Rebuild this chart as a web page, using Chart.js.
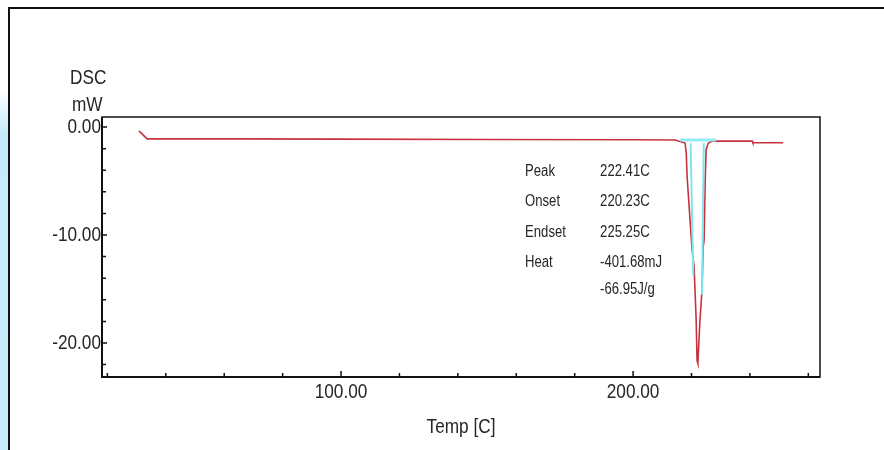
<!DOCTYPE html>
<html>
<head>
<meta charset="utf-8">
<script src="https://cdn.jsdelivr.net/npm/chart.js@4.4.0/dist/chart.umd.min.js"></script>
<style>
  html, body { margin: 0; padding: 0; background: #fff; }
  #wrap { width: 884px; height: 450px; position: relative; }
</style>
</head>
<body>
<div id="wrap"><canvas id="dsc" width="884" height="450"></canvas></div>
<script>
// DSC curve (red)
const tempRed = [30.8, 33.6, 60, 100, 150, 200, 214.4, 217.8, 218.2, 218.5, 219.5, 220.2, 220.9, 221.6, 221.9, 222.2,
  222.4, 222.9, 223.6, 224.0, 224.3, 224.7, 225.0, 225.7, 227.1, 240.8, 241.0, 251.4];
const dscRed = [-0.35, -1.1, -1.1, -1.12, -1.15, -1.18, -1.2, -1.48, -2.4, -4.6, -8.6, -11.4, -13.0, -17.9, -21.6, -21.9,
  -20.6, -17.9, -15.1, -11.1, -10.5, -4.9, -2.1, -1.5, -1.3, -1.3, -1.45, -1.45];

// peak integration marks (cyan)
const tempBase = [216.1, 228.4];
const dscBase = [-1.2, -1.2];
const tempCyanL = [219.7, 220.6];
const dscCyanL = [-1.5, -13.8];
const tempCyanR = [224.2, 223.6];
const dscCyanR = [-1.5, -15.5];

// axes
const xMin = 18.15, xMax = 264.0;
const yMin = -23.15, yMax = 0.93;
const xStep = 20, yStep = 2;
const xLabelEvery = 100, yLabelEvery = 10;

// result box
const resultNames = ['Peak', 'Onset', 'Endset', 'Heat', ''];
const resultValues = ['222.41C', '220.23C', '225.25C', '-401.68mJ', '-66.95J/g'];

// Arial Narrow look: Liberation Sans squeezed horizontally
const FONT = "'Liberation Sans', Arial, sans-serif";
const SQUEEZE = 0.82;
const TEXT = '#262626';

function pts(xs, ys) {
  return xs.map((x, i) => ({ x: x, y: ys[i] }));
}

function narrowText(ctx, txt, x, y, size, align) {
  ctx.save();
  ctx.font = size + 'px ' + FONT;
  ctx.textBaseline = 'middle';
  ctx.textAlign = align || 'left';
  ctx.fillStyle = TEXT;
  ctx.translate(x, y);
  ctx.scale(SQUEEZE, 1);
  ctx.fillText(txt, 0, 0);
  ctx.restore();
}

const framePlugin = {
  id: 'frame',
  beforeDraw(chart) {
    const ctx = chart.ctx;
    ctx.save();
    // light blue strip on the left
    const g = ctx.createLinearGradient(0, 90, 0, 450);
    g.addColorStop(0, 'rgba(196,234,250,0)');
    g.addColorStop(0.12, 'rgba(196,234,250,1)');
    g.addColorStop(1, 'rgba(200,236,250,1)');
    ctx.fillStyle = g;
    ctx.fillRect(0, 90, 8, 360);
    // outer window border
    ctx.strokeStyle = '#111';
    ctx.lineWidth = 2;
    ctx.beginPath();
    ctx.moveTo(9, 450);
    ctx.lineTo(9, 8);
    ctx.lineTo(884, 8);
    ctx.stroke();
    ctx.restore();
  },
  afterDraw(chart) {
    const ctx = chart.ctx;
    const a = chart.chartArea;
    const xs = chart.scales.x, ys = chart.scales.y;
    ctx.save();
    // plot frame
    ctx.strokeStyle = '#111';
    ctx.lineWidth = 1.5;
    ctx.strokeRect(a.left, a.top, a.right - a.left, a.bottom - a.top);
    ctx.lineWidth = 2;
    ctx.beginPath();
    ctx.moveTo(a.left, a.top);
    ctx.lineTo(a.left, a.bottom);
    ctx.lineTo(a.right, a.bottom);
    ctx.stroke();
    // inward tick marks
    ctx.lineWidth = 1.5;
    ctx.beginPath();
    xs.ticks.forEach(t => {
      const px = xs.getPixelForValue(t.value);
      const len = t.value % xLabelEvery === 0 ? 6 : 4;
      ctx.moveTo(px, a.bottom);
      ctx.lineTo(px, a.bottom - len);
    });
    ys.ticks.forEach(t => {
      const py = ys.getPixelForValue(t.value);
      const len = t.value % yLabelEvery === 0 ? 5 : 4;
      ctx.moveTo(a.left, py);
      ctx.lineTo(a.left + len, py);
    });
    ctx.stroke();
    ctx.restore();

    // tick labels
    xs.ticks.forEach(t => {
      if (t.value % xLabelEvery !== 0) return;
      narrowText(ctx, t.value.toFixed(2), xs.getPixelForValue(t.value), a.bottom + 15, 21, 'center');
    });
    ys.ticks.forEach(t => {
      if (Math.abs(t.value % yLabelEvery) > 1e-9) return;
      const v = t.value === 0 ? 0 : t.value;
      narrowText(ctx, v.toFixed(2), a.left - 1, ys.getPixelForValue(t.value), 21, 'right');
    });
    // axis titles
    narrowText(ctx, 'Temp [C]', (a.left + a.right) / 2, a.bottom + 50, 21, 'center');
    narrowText(ctx, 'DSC', 70, 78, 21, 'left');
    narrowText(ctx, 'mW', 72, 105, 21, 'left');

    // result box
    const nameX = xs.getPixelForValue(163.0);
    const valX = xs.getPixelForValue(188.7);
    const rowsY = [-4.17, -6.94, -9.8, -12.6, -15.1];
    resultNames.forEach((n, i) => {
      const py = ys.getPixelForValue(rowsY[i]);
      if (n) narrowText(ctx, n, nameX, py, 16, 'left');
      narrowText(ctx, resultValues[i], valX, py, 16, 'left');
    });
  }
};

new Chart(document.getElementById('dsc'), {
  type: 'scatter',
  data: {
    datasets: [
      { data: pts(tempBase, dscBase), showLine: true, borderColor: '#8eeef4', borderWidth: 3, pointRadius: 0 },
      { data: pts(tempCyanL, dscCyanL), showLine: true, borderColor: '#7fe6ee', borderWidth: 2, pointRadius: 0 },
      { data: pts(tempCyanR, dscCyanR), showLine: true, borderColor: '#7fe6ee', borderWidth: 2, pointRadius: 0 },
      { data: pts(tempRed, dscRed), showLine: true, borderColor: '#c8323e', borderWidth: 1.6, pointRadius: 0, tension: 0 }
    ]
  },
  options: {
    responsive: false,
    animation: false,
    events: [],
    layout: { padding: { left: 0, top: 117, right: 64, bottom: 0 } },
    plugins: { legend: { display: false }, tooltip: { enabled: false } },
    scales: {
      x: {
        type: 'linear',
        min: xMin, max: xMax,
        border: { display: false },
        grid: { display: false, drawTicks: false },
        ticks: { display: false, stepSize: xStep, includeBounds: false, autoSkip: false },
        afterFit: s => { s.height = 73; }
      },
      y: {
        type: 'linear',
        min: yMin, max: yMax,
        border: { display: false },
        grid: { display: false, drawTicks: false },
        ticks: { display: false, stepSize: yStep, includeBounds: false, autoSkip: false },
        afterFit: s => { s.width = 102; }
      }
    }
  },
  plugins: [framePlugin]
});
</script>
</body>
</html>
